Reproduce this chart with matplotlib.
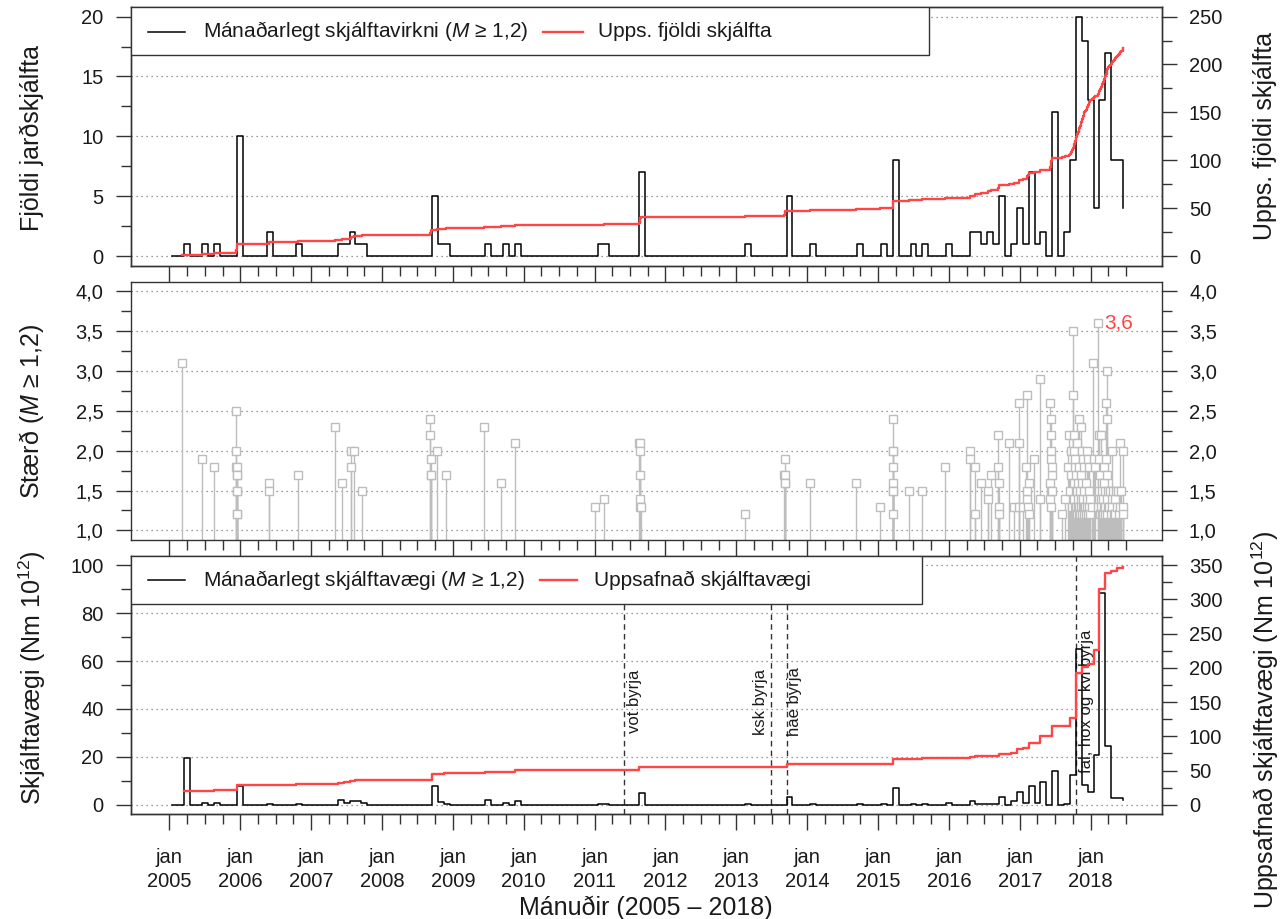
import numpy as np
import matplotlib
matplotlib.use("Agg")
import matplotlib.pyplot as plt
from matplotlib.patches import Rectangle
from matplotlib.lines import Line2D
from matplotlib import transforms

plt.rcParams['font.family'] = ['Liberation Sans', 'DejaVu Sans']
plt.rcParams['mathtext.fontset'] = 'custom'
plt.rcParams['mathtext.rm'] = 'Liberation Sans'
plt.rcParams['mathtext.it'] = 'Liberation Sans:italic'
plt.rcParams['mathtext.bf'] = 'Liberation Sans:bold'

RED = '#ff4545'
DK = '#333333'
GRAY = '#bdbdbd'
GRID = '#7a7a7a'

# time axis: months counted from jan 2005 (0 = jan 2005)
n_months = 162
years = list(range(2005, 2019))

# single earthquakes (M >= 1.2): time in months and magnitude
ev_t = [2.2, 5.5, 7.6,
        11.30, 11.35, 11.35, 11.40, 11.40, 11.40, 11.45, 11.45, 11.50, 11.50,
        16.8, 16.85, 21.75, 28.1, 29.3, 30.7, 30.8, 31.2, 32.6,
        44.2, 44.2, 44.25, 44.25, 44.3, 45.3, 46.8, 53.3, 56.1, 58.5,
        72.1, 73.6,
        79.6, 79.65, 79.7, 79.7, 79.75, 79.75, 79.8,
        97.4, 104.0, 104.2, 104.2, 104.25, 104.3, 108.4, 116.2, 120.4,
        122.45, 122.5, 122.5, 122.5, 122.55, 122.55, 122.6, 122.6,
        125.2, 127.5, 131.3,
        135.5, 135.65, 136.4, 136.5, 137.4, 138.55, 138.6, 139.1,
        140.3, 140.35, 140.4, 140.4, 140.45, 142.2,
        143.1, 143.85, 143.9, 143.9, 144.6,
        145.1, 145.15, 145.3, 145.3, 145.45, 145.5, 145.6, 146.4, 147.35, 147.4,
        149.1, 149.15, 149.2, 149.25, 149.3, 149.3, 149.3, 149.3, 149.35, 149.4, 149.45, 149.5,
        151.2, 151.7,
        152.25, 152.4, 152.5, 152.6, 152.7, 152.8, 152.9, 152.97,
        153.02, 153.1, 153.15, 153.2, 153.25, 153.3, 153.35, 153.4, 153.45, 153.5,
        153.55, 153.6, 153.65, 153.7, 153.75, 153.8, 153.85, 153.9, 153.95, 153.98,
        154.05, 154.1, 154.15, 154.2, 154.3, 154.35, 154.4, 154.45, 154.5,
        154.55, 154.6, 154.65, 154.7, 154.75, 154.8, 154.85, 154.9, 154.95,
        155.05, 155.15, 155.2, 155.3, 155.35, 155.45, 155.5, 155.6, 155.65, 155.75, 155.8, 155.9, 155.95,
        156.2, 156.45, 156.5, 156.7,
        157.2, 157.25, 157.35, 157.4, 157.5, 157.55, 157.6, 157.7, 157.75, 157.8, 157.85, 157.9, 157.95,
        158.05, 158.1, 158.2, 158.25, 158.3, 158.35, 158.45, 158.5, 158.6,
        158.65, 158.7, 158.72, 158.75, 158.8, 158.85, 158.9, 158.95,
        159.1, 159.25, 159.4, 159.55, 159.6, 159.7, 159.8, 159.9,
        160.1, 160.2, 160.35, 160.5, 160.6, 160.8, 160.95, 160.98,
        161.2, 161.4, 161.45, 161.5]
ev_m = [3.1, 1.9, 1.8,
        2.5, 2.0, 1.8, 1.8, 1.7, 1.5, 1.5, 1.2, 1.2, 1.7,
        1.6, 1.5, 1.7, 2.3, 1.6, 2.0, 1.8, 2.0, 1.5,
        2.4, 2.2, 1.9, 1.7, 1.7, 2.0, 1.7, 2.3, 1.6, 2.1,
        1.3, 1.4,
        2.1, 2.1, 2.0, 1.7, 1.4, 1.3, 1.3,
        1.2, 1.7, 1.9, 1.7, 1.6, 1.6, 1.6, 1.6, 1.3,
        2.4, 2.0, 2.0, 1.8, 1.6, 1.5, 1.5, 1.2,
        1.5, 1.5, 1.8,
        2.0, 1.9, 1.8, 1.2, 1.6, 1.5, 1.4, 1.7,
        2.2, 1.8, 1.6, 1.3, 1.2, 2.1,
        1.3, 2.6, 2.1, 1.3, 1.3,
        1.8, 1.4, 2.7, 1.5, 1.3, 1.6, 1.2, 1.9, 2.9, 1.4,
        1.4, 1.6, 2.6, 2.4, 2.2, 2.0, 1.5, 1.3, 1.9, 1.7, 1.5, 1.8,
        1.2, 1.4,
        1.8, 2.2, 1.5, 2.0, 1.7, 1.3, 1.9, 2.7,
        3.5, 2.2, 1.6, 2.0, 1.4, 1.8, 1.3, 1.9, 1.5, 1.2,
        1.7, 1.3, 2.1, 1.5, 1.2, 1.4, 1.6, 1.3, 1.8, 1.2,
        2.4, 1.3, 1.5, 1.2, 2.3, 1.4, 1.7, 1.3, 2.0,
        1.2, 1.6, 1.4, 1.9, 1.3, 1.5, 1.2, 1.8, 1.3,
        1.3, 1.6, 1.2, 2.0, 1.4, 1.3, 1.9, 1.2, 1.5, 1.3, 1.8, 1.2, 1.4,
        1.3, 3.1, 1.9, 1.8,
        3.6, 1.3, 2.2, 1.5, 1.9, 1.2, 1.7, 1.4, 2.2, 1.3, 1.6, 1.2, 1.5,
        1.4, 1.2, 1.8, 1.3, 1.6, 1.2, 1.5, 1.3, 1.9,
        2.6, 3.0, 2.4, 1.4, 1.2, 1.7, 1.3, 1.5,
        1.3, 1.5, 1.2, 2.0, 1.4, 1.3, 1.5, 1.2,
        1.4, 1.2, 1.5, 1.3, 1.5, 1.2, 2.1, 1.3,
        1.5, 2.0, 1.3, 1.2]

# monthly seismic moment (Nm 10^12); months not listed are 0
mom_month = [2, 5, 7, 11, 16, 21, 28, 29, 30, 31, 32, 44, 45, 46, 53, 56, 58,
             72, 73, 79, 97, 104, 108, 116, 120, 122, 125, 127, 131,
             135, 136, 137, 138, 139, 140, 142, 143, 144, 145, 146, 147, 149,
             151, 152, 153, 154, 155, 156, 157, 158, 159, 160, 161]
mom_value = [19.6, 0.7, 0.7, 8.0, 0.5, 0.5, 2.1, 0.7, 1.7, 1.4, 0.7, 7.7, 1.0, 0.4, 2.1, 0.6, 1.7,
             0.3, 0.4, 4.7, 0.2, 3.1, 0.5, 0.5, 0.3, 7.0, 0.4, 0.4, 0.7,
             1.5, 0.4, 0.3, 0.4, 0.3, 3.2, 1.4, 5.4, 0.7, 8.0, 0.7, 9.5, 14.0,
             0.5, 12.3, 65.0, 8.4, 5.3, 20.6, 88.4, 24.4, 3.0, 3.0, 2.1]

# start of swarms in the area
vline_t = [77.0, 101.8, 104.5, 153.6]
vline_lbl = ['vot byrja', 'ksk byrja', 'hae byrja', 'fal, hox og kvi byrja']
vline_off = [7.5, -7.5, 6.0, 7.0]

ev_t = np.array(ev_t)
ev_m = np.array(ev_m)
xs = np.arange(n_months) + 0.5
counts = np.histogram(ev_t, bins=np.arange(n_months + 1))[0]
moment = np.zeros(n_months)
moment[mom_month] = mom_value
cum_mom = np.cumsum(moment)
order = np.argsort(ev_t, kind='stable')
cum_t = ev_t[order]
cum_n = np.arange(1, len(ev_t) + 1)

fig = plt.figure(figsize=(12.81, 9.19), dpi=100)
L, W = 131 / 1281, 1030.5 / 1281
ax1 = fig.add_axes([L, 0.71088, W, 0.28150])
ax2 = fig.add_axes([L, 0.41241, W, 0.28107])
ax3 = fig.add_axes([L, 0.11393, W, 0.28139])
ax1r = ax1.twinx()
ax3r = ax3.twinx()

XLIM = (-6.5, 168.0)
maj = list(range(0, 157, 12))
mnr = [m for m in range(0, 163, 3) if m % 12]
grid_kw = dict(color=GRID, lw=0.9, linestyle=(0, (1, 3)), zorder=0)
TICK_FS = 14.5


def base_style(ax):
    for s in ax.spines.values():
        s.set_color(DK)
        s.set_linewidth(1.0)
    ax.set_xlim(*XLIM)
    ax.set_xticks(maj)
    ax.set_xticks(mnr, minor=True)
    ax.tick_params(axis='x', which='major', length=11.5, width=1.0, color=DK, direction='out')
    ax.tick_params(axis='x', which='minor', length=7.0, width=1.0, color=DK, direction='out')
    ax.tick_params(axis='y', which='major', length=10.8, width=1.0, color=DK, direction='out',
                   labelsize=TICK_FS, pad=9, labelcolor='#1a1a1a')
    ax.tick_params(axis='y', which='minor', length=7.2, width=1.0, color=DK, direction='out')


def comma(vals, fmt):
    return [fmt.format(v).replace('.', ',') for v in vals]


def legend_box(ax, x1, yb, y_line, y_base, items):
    ax.add_patch(Rectangle((0, yb), x1, 1 - yb, transform=ax.transAxes, facecolor='white',
                           edgecolor=DK, lw=1.0, zorder=10))
    for l0, l1, tx, col, lw, lab in items:
        ax.add_line(Line2D([l0, l1], [y_line, y_line], transform=ax.transAxes, color=col,
                           lw=lw, zorder=11))
        ax.text(tx, y_base, lab, transform=ax.transAxes, fontsize=15, va='baseline',
                ha='left', zorder=11, color='#1a1a1a')


# ---- top panel: monthly count and cumulative count
base_style(ax1)
ax1.step(xs, counts, where='post', color='black', lw=1.1, zorder=3)
ax1.set_ylim(-0.8, 20.8)
ax1.set_yticks([0, 5, 10, 15, 20])
ax1.set_yticks(np.arange(2.5, 20, 5), minor=True)
for v in [0, 5, 10, 15, 20]:
    ax1.axhline(v, **grid_kw)
ax1.tick_params(axis='x', labelbottom=False)

base_style(ax1r)
ax1r.step(cum_t, cum_n, where='post', color=RED, lw=1.7, zorder=4)
ax1r.set_ylim(-10, 260)
ax1r.set_yticks(range(0, 251, 50))
ax1r.set_yticks(range(25, 250, 50), minor=True)
legend_box(ax1r, 0.7744, 0.8145, 0.9045, 0.885,
           [(0.0165, 0.0524, 0.0699, 'black', 1.1, 'Mánaðarlegt skjálftavirkni ($M$ ≥ 1,2)'),
            (0.3998, 0.4386, 0.4532, RED, 1.7, 'Upps. fjöldi skjálfta')])

# ---- middle panel: magnitudes
base_style(ax2)
ax2.vlines(ev_t, 0, ev_m, color=GRAY, lw=1.0, zorder=2)
ax2.plot(ev_t, ev_m, 's', ms=6, mfc='white', mec=GRAY, mew=1.0, zorder=3)
ax2.set_ylim(0.88, 4.12)
mag_ticks = np.arange(1.0, 4.01, 0.5)
ax2.set_yticks(mag_ticks)
ax2.set_yticklabels(comma(mag_ticks, '{:.1f}'))
ax2.set_yticks(np.arange(1.25, 4.0, 0.5), minor=True)
for v in mag_ticks:
    ax2.axhline(v, **grid_kw)
ax2.tick_params(axis='y', which='both', right=True, labelright=True)
ax2.tick_params(axis='x', labelbottom=False)
imax = int(np.argmax(ev_m))
ax2.annotate(f'{ev_m[imax]:.1f}'.replace('.', ','), (ev_t[imax], ev_m[imax]),
             xytext=(4.5, 0), textcoords='offset points', color=RED, fontsize=15,
             ha='left', va='center', zorder=5)

# ---- bottom panel: seismic moment
base_style(ax3)
ax3.step(xs, moment, where='post', color='black', lw=1.1, zorder=3)
ax3.set_ylim(-4, 104)
ax3.set_yticks(range(0, 101, 20))
ax3.set_yticks(range(10, 100, 20), minor=True)
for v in range(0, 101, 20):
    ax3.axhline(v, **grid_kw)
ax3.set_xticklabels([f'jan\n{y}' for y in years], fontsize=TICK_FS, linespacing=1.3,
                    color='#1a1a1a')
ax3.tick_params(axis='x', which='major', pad=13)
for t, lab, off in zip(vline_t, vline_lbl, vline_off):
    ax3.axvline(t, color=DK, lw=1.0, dashes=(4, 3), zorder=2)
    tr = transforms.offset_copy(ax3.transData, fig=fig, x=off, y=0, units='points')
    ax3.text(t, 43, lab, transform=tr, rotation=90, ha='center', va='center',
             fontsize=12, color='#1a1a1a', zorder=4)

base_style(ax3r)
first = mom_month[0]
ax3r.step(xs[first:], cum_mom[first:], where='post', color=RED, lw=1.7, zorder=4)
ax3r.set_ylim(-14, 364)
ax3r.set_yticks(range(0, 351, 50))
ax3r.set_yticks(range(25, 350, 50), minor=True)
legend_box(ax3r, 0.7679, 0.8132, 0.906, 0.884,
           [(0.0165, 0.0524, 0.0699, 'black', 1.1, 'Mánaðarlegt skjálftavægi ($M$ ≥ 1,2)'),
            (0.3969, 0.4328, 0.4493, RED, 1.7, 'Uppsafnað skjálftavægi')])

# ---- axis titles
lab_kw = dict(fontsize=18, rotation=90, ha='center', va='center', color='#1a1a1a')
fig.text(32 / 1281, 1 - 138 / 919, 'Fjöldi jarðskjálfta', **lab_kw)
fig.text(1265 / 1281, 1 - 136 / 919, 'Upps. fjöldi skjálfta', **lab_kw)
fig.text(32 / 1281, 1 - 411 / 919, 'Stærð ($M$ ≥ 1,2)', **lab_kw)
fig.text(32 / 1281, 1 - 678 / 919, 'Skjálftavægi (Nm 10$^{12}$)', **lab_kw)
fig.text(1265 / 1281, 1 - 720 / 919, 'Uppsafnað skjálftavægi (Nm 10$^{12}$)', **lab_kw)
fig.text(646 / 1281, 1 - 908 / 919, 'Mánuðir (2005 – 2018)', fontsize=18, ha='center',
         va='center', color='#1a1a1a')

fig.savefig('out.png', dpi=100)
